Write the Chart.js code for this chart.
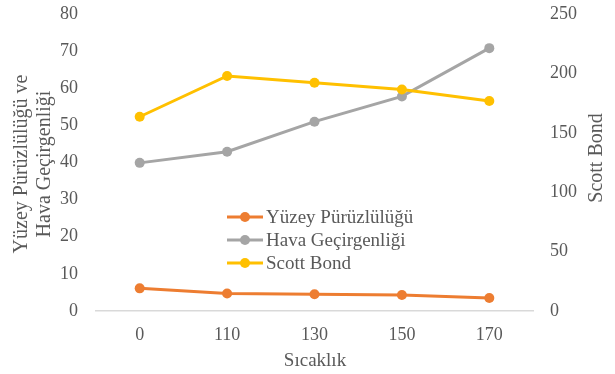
<!DOCTYPE html>
<html>
<head>
<meta charset="utf-8">
<script src="https://cdn.jsdelivr.net/npm/chart.js@4"></script>
<style>
  html, body { margin: 0; padding: 0; background: #fff; }
  #wrap { width: 615px; height: 374px; position: relative; }
</style>
</head>
<body>
<div id="wrap"><canvas id="chart"></canvas></div>
<script>
const categories = ['0', '110', '130', '150', '170']
const yuzey = [6.1, 4.7, 4.5, 4.3, 3.5]
const hava = [39.9, 42.9, 51, 57.8, 70.8]
const scott = [163.5, 197.8, 192.2, 186.5, 176.8]
const leftTitle = ['Yüzey Pürüzlülüğü ve', 'Hava Geçirgenliği']
const rightTitle = 'Scott Bond'
const xTitle = 'Sıcaklık'

const serif = '"Liberation Serif", "Times New Roman", serif'
const textColor = '#595959'

// axis titles and the in-plot legend
const extras = {
  id: 'extras',
  afterDraw(chart) {
    const ctx = chart.ctx
    ctx.save()
    ctx.fillStyle = textColor
    ctx.font = '20px ' + serif
    ctx.textAlign = 'center'
    ctx.textBaseline = 'middle'

    ctx.save()
    ctx.translate(22, 164)
    ctx.rotate(-Math.PI / 2)
    ctx.fillText(leftTitle[0], 0, 0)
    ctx.fillText(leftTitle[1], 0, 23)
    ctx.restore()

    ctx.save()
    ctx.translate(597, 158)
    ctx.rotate(-Math.PI / 2)
    ctx.fillText(rightTitle, 0, 0)
    ctx.restore()

    ctx.font = '19px ' + serif
    ctx.fillText(xTitle, 315, 361)

    // legend
    const x0 = 227, x1 = 263
    chart.data.datasets.forEach((ds, i) => {
      const y = 217 + i * 23
      ctx.strokeStyle = ds.borderColor
      ctx.lineWidth = 3
      ctx.beginPath()
      ctx.moveTo(x0, y)
      ctx.lineTo(x1, y)
      ctx.stroke()
      ctx.fillStyle = ds.borderColor
      ctx.beginPath()
      ctx.arc((x0 + x1) / 2, y, 5, 0, Math.PI * 2)
      ctx.fill()
      ctx.fillStyle = textColor
      ctx.textAlign = 'left'
      ctx.fillText(ds.label, 266, y + 1)
    })
    ctx.restore()
  }
}

function fitV(width) {
  return function(s) {
    s.width = width
    s.paddingTop = 0
    s.paddingBottom = 0
  }
}

const ctx = document.getElementById('chart').getContext('2d')
new Chart(ctx, {
  type: 'line',
  data: {
    labels: categories,
    datasets: [
      { label: 'Yüzey Pürüzlülüğü', data: yuzey, yAxisID: 'y', borderColor: '#ED7D31', backgroundColor: '#ED7D31', order: 3 },
      { label: 'Hava Geçirgenliği', data: hava, yAxisID: 'y', borderColor: '#A5A5A5', backgroundColor: '#A5A5A5', order: 2 },
      { label: 'Scott Bond', data: scott, yAxisID: 'y1', borderColor: '#FFC000', backgroundColor: '#FFC000', order: 1 }
    ]
  },
  options: {
    responsive: true,
    maintainAspectRatio: false,
    animation: false,
    layout: { padding: { top: 14, left: 0, right: 0, bottom: 0 } },
    elements: {
      line: { borderWidth: 3, tension: 0 },
      point: { radius: 5, hoverRadius: 5, borderWidth: 0 }
    },
    plugins: {
      legend: { display: false },
      tooltip: { enabled: false }
    },
    scales: {
      x: {
        offset: true,
        grid: { display: false, drawTicks: false },
        border: { display: true, color: '#D9D9D9', width: 1.5 },
        ticks: { color: textColor, font: { family: serif, size: 18 }, padding: 13 },
        afterFit(s) { s.height = 63; s.paddingLeft = 0; s.paddingRight = 0 }
      },
      y: {
        position: 'left',
        min: 0, max: 80,
        ticks: { stepSize: 10, color: textColor, font: { family: serif, size: 18 }, padding: 18 },
        grid: { display: false, drawTicks: false },
        border: { display: false },
        afterFit: fitV(96)
      },
      y1: {
        position: 'right',
        min: 0, max: 250,
        ticks: { stepSize: 50, color: textColor, font: { family: serif, size: 18 }, padding: 17 },
        grid: { display: false, drawTicks: false },
        border: { display: false },
        afterFit: fitV(82)
      }
    }
  },
  plugins: [extras]
})
</script>
</body>
</html>
